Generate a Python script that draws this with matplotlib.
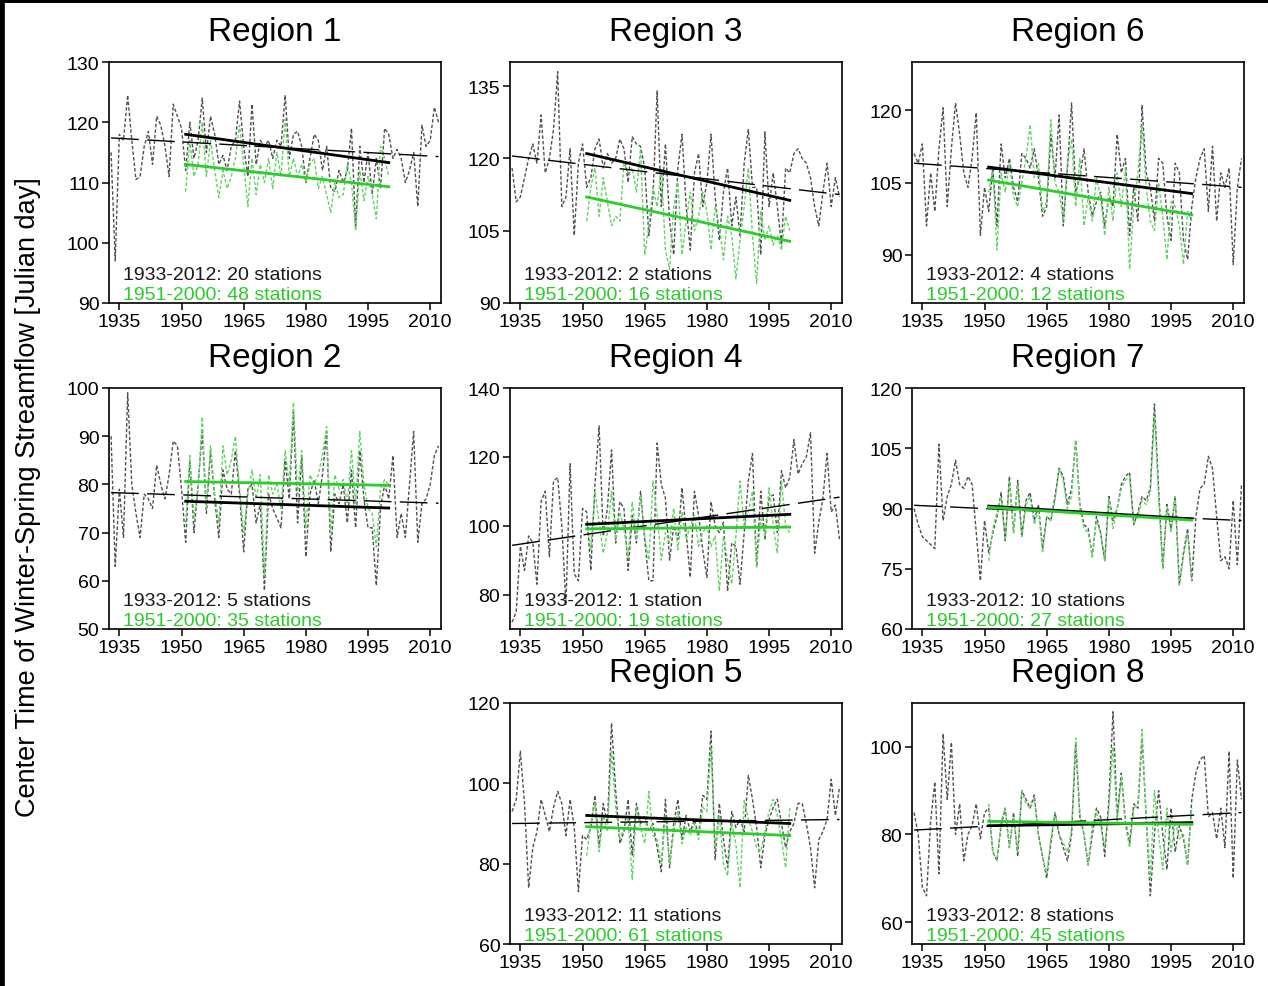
import numpy as np
import matplotlib
matplotlib.use("Agg")
import matplotlib.pyplot as plt
from matplotlib.lines import Line2D

plt.rcParams['font.family'] = ['Liberation Sans', 'DejaVu Sans']

# ---------------- data ----------------
years_all = np.arange(1933, 2013)      # 1933-2012 series
years_recent = np.arange(1951, 2001)   # 1951-2000 series
xticks = [1935, 1950, 1965, 1980, 1995, 2010]

# Region 1
r1_all = [115, 97, 118, 117, 124.5, 117, 110.5, 111, 116, 118.5,
          113, 121, 119.5, 116, 111, 123, 121, 119, 112, 120,
          114, 117, 124, 115, 121, 118, 113, 114.5, 112, 116,
          117, 123.5, 116, 111, 123, 113, 117, 116, 117, 114,
          117, 116, 124.5, 114, 118, 118.5, 116, 110, 114, 118,
          117, 112, 116, 109, 108.5, 112, 110, 112, 119, 102.5,
          116, 110, 115, 108, 114, 109, 119, 118, 114, 115.5,
          114, 110, 112, 115, 106, 119.5, 116, 117, 122.5, 120]
r1_recent = [108.5, 117, 111, 113, 120, 111, 117, 112, 107.5, 112,
             109, 111, 114, 119.5, 113, 106, 114, 108, 113, 110,
             114, 109, 115, 111, 120.5, 111, 114, 111, 113, 110,
             113, 114, 109, 111, 108, 105, 110, 107.5, 108, 113,
             110, 102, 112, 107, 111, 108, 104, 116, 114, 111]
r1_trend_all = [117.4, 114.3]
r1_trend_all_51 = [118.0, 113.3]
r1_trend_recent = [113.0, 109.3]

# Region 3
r3_all = [118, 111, 112, 116, 120, 123, 119, 129, 117, 120,
          126, 138, 110, 112, 122, 104, 119, 123, 114, 116,
          122, 124, 118, 121, 119, 120, 124, 122, 115, 124.5,
          123, 122.5, 118, 104, 112, 134, 110, 123, 107, 100,
          118, 125, 110, 101, 117, 121, 110, 115, 125, 112,
          103, 113, 118, 106, 112, 104, 119, 126, 114, 114,
          100, 125.5, 110, 117, 110, 102, 118, 117, 121, 122,
          120, 119, 116, 110, 106, 113, 119, 110, 116, 112]
r3_recent = [107, 114, 118, 108, 116, 111, 106, 108, 107, 119,
             117, 118, 113, 122, 100, 106, 114, 110, 118, 101,
             97, 110, 115, 100, 107, 113, 105, 108, 113, 109,
             101, 110, 106, 99, 108, 104, 95, 103, 110, 118,
             104, 94, 109, 103, 106, 102, 104, 101, 108, 105]
r3_trend_all = [120.5, 112.5]
r3_trend_all_51 = [121.0, 111.3]
r3_trend_recent = [112.0, 102.8]

# Region 6
r6_all = [111, 109, 113, 96, 107, 99, 112, 120.5, 100, 112,
          121.5, 115, 107, 104, 110, 119.5, 94, 104, 99, 108,
          96, 113, 106, 110, 104, 101, 111, 110, 108, 112,
          106, 98, 100, 115, 106, 119, 96, 108, 121.5, 103,
          106, 112, 103, 98, 101, 103, 96, 102, 100, 115,
          107, 110, 94, 104, 97, 121, 107, 104, 97, 110,
          109, 98, 93, 109, 107, 93, 89, 100, 106, 110,
          112, 99, 112.5, 97, 107, 104, 108, 88, 104, 110]
r6_recent = [103, 108, 91, 107, 103, 109, 102, 100, 105, 110,
             117, 106, 109, 99, 101, 118, 105, 103, 97, 109,
             114, 100, 110, 96, 102, 97, 106, 102, 94, 104,
             97, 107, 100, 108, 87, 100, 107, 117, 104, 97,
             95, 105, 98, 89, 101, 100, 96, 88, 99, 97]
r6_trend_all = [109.0, 104.0]
r6_trend_all_51 = [108.2, 102.7]
r6_trend_recent = [105.5, 98.3]

# Region 2
r2_all = [90, 63, 79, 69, 99, 80, 74, 69, 78, 77,
          75, 84, 80, 77, 82, 89, 88, 79, 68, 85,
          70, 80, 91, 74, 87, 77, 69, 83, 79, 78,
          87, 78, 66, 79, 80, 72, 76, 58, 78, 75,
          73, 71, 85, 77, 95, 72, 86, 65, 78, 81,
          76, 82, 91, 66, 78, 76, 80, 72, 83, 71,
          87, 77, 71, 71, 59, 75, 80, 77, 86, 69,
          74, 69, 80, 91, 68, 76, 77, 80, 86, 88]
r2_recent = [72, 86, 73, 79, 94, 75, 88, 78, 72, 88,
             82, 85, 90, 79, 70, 78, 83, 77, 82, 61,
             82, 78, 80, 75, 87, 80, 97, 78, 87, 71,
             82, 80, 82, 86, 92, 70, 82, 79, 81, 76,
             87, 76, 91, 80, 75, 74, 67, 79, 81, 80]
r2_trend_all = [78.3, 76.1]
r2_trend_all_51 = [76.5, 75.1]
r2_trend_recent = [80.6, 79.8]

# Region 4
r4_all = [72, 75, 94, 87, 97, 95, 83, 107, 110, 91,
          113, 114, 100, 77, 118, 86, 84, 105, 104, 87,
          112, 129, 97, 105, 122, 95, 107, 105, 87, 103,
          95, 110, 96, 84, 84, 124, 112, 108, 90, 100,
          96, 111, 98, 85, 110, 103, 93, 85, 107, 100,
          98, 101, 81, 95, 94, 83, 98, 113, 121, 88,
          110, 96, 108, 109, 98, 116, 111, 114, 125, 115,
          118, 120, 127, 92, 101, 108, 121, 104, 106, 96]
r4_recent = [101, 93, 110, 101, 92, 98, 110, 96, 104, 99,
             91, 107, 96, 109, 97, 90, 113, 103, 90, 98,
             95, 105, 93, 104, 96, 100, 103, 94, 98, 100,
             94, 97, 81, 97, 90, 83, 97, 113, 100, 104,
             110, 88, 102, 97, 111, 100, 92, 113, 100, 98]
r4_trend_all = [94.3, 108.3]
r4_trend_all_51 = [100.4, 103.3]
r4_trend_recent = [99.1, 99.6]

# Region 7
r7_all = [90, 86, 83, 82, 81, 80, 106, 87, 93, 96,
          102, 96, 95, 98, 96, 84, 72, 87, 79, 84,
          88, 94, 82, 98, 84, 97, 83, 92, 94, 87,
          91, 80, 88, 87, 93, 100, 98, 91, 95, 107,
          91, 86, 85, 78, 88, 84, 77, 93, 87, 90,
          96, 98, 99, 86, 89, 93, 92, 95, 116, 95,
          75, 91, 85, 93, 71, 79, 85, 72, 88, 95,
          96, 103, 100, 88, 77, 78, 75, 92, 76, 96]
r7_recent = [77, 85, 89, 93, 82, 97, 84, 96, 83, 91,
             93, 86, 90, 79, 88, 87, 92, 100, 97, 90,
             93, 107, 90, 85, 84, 78, 87, 84, 77, 92,
             85, 90, 95, 97, 98, 86, 88, 92, 91, 94,
             114, 93, 75, 90, 84, 93, 71, 78, 84, 72]
r7_trend_all = [90.8, 87.0]
r7_trend_all_51 = [90.6, 87.4]
r7_trend_recent = [90.3, 87.1]

# Region 5
r5_all = [93, 96, 108, 95, 74, 84, 88, 96, 92, 88,
          94, 98, 95, 87, 96, 89, 73, 87, 86, 89,
          97, 84, 95, 90, 115, 98, 85, 88, 96, 82,
          95, 90, 92, 88, 90, 84, 78, 96, 79, 90,
          96, 86, 92, 88, 91, 87, 97, 96, 113, 81,
          95, 86, 79, 93, 89, 91, 88, 102, 96, 89,
          79, 87, 91, 94, 96, 90, 84, 88, 90, 95,
          95, 90, 84, 74, 86, 88, 91, 101, 92, 99]
r5_recent = [82, 90, 95, 83, 92, 88, 108, 94, 86, 89,
             91, 76, 94, 89, 85, 98, 87, 86, 80, 92,
             80, 88, 93, 85, 89, 87, 90, 86, 94, 93,
             109, 84, 92, 80, 77, 90, 85, 74, 96, 91,
             88, 84, 83, 88, 93, 96, 92, 86, 79, 94]
r5_trend_all = [90.0, 91.0]
r5_trend_all_51 = [92.0, 90.0]
r5_trend_recent = [89.2, 87.0]

# Region 8
r8_all = [85, 80, 68, 66, 83, 92, 71, 103, 88, 101,
          80, 87, 74, 80, 82, 87, 79, 85, 86, 76,
          74, 82, 86, 77, 85, 75, 90, 88, 86, 89,
          80, 75, 70, 78, 85, 80, 77, 74, 80, 101,
          84, 80, 73, 80, 86, 84, 75, 88, 108, 84,
          94, 83, 78, 87, 86, 102, 84, 66, 80, 90,
          80, 72, 86, 76, 82, 79, 73, 88, 94, 97,
          98, 84, 85, 79, 86, 77, 99, 70, 97, 88]
r8_recent = [87, 76, 74, 83, 86, 77, 84, 76, 90, 87,
             86, 88, 80, 75, 71, 79, 85, 80, 78, 76,
             81, 102, 85, 80, 73, 82, 85, 82, 77, 86,
             100, 83, 93, 82, 77, 86, 87, 104, 84, 70,
             90, 80, 72, 86, 76, 83, 79, 80, 73, 86]
r8_trend_all = [81.0, 85.0]
r8_trend_all_51 = [82.0, 82.7]
r8_trend_recent = [83.0, 82.3]

region_names = ["Region 1", "Region 3", "Region 6", "Region 2",
                "Region 4", "Region 7", "Region 5", "Region 8"]
stations_all = [20, 2, 4, 5, 1, 10, 11, 8]
stations_recent = [48, 16, 12, 35, 19, 27, 61, 45]

series_all = [r1_all, r3_all, r6_all, r2_all, r4_all, r7_all, r5_all, r8_all]
series_recent = [r1_recent, r3_recent, r6_recent, r2_recent,
                 r4_recent, r7_recent, r5_recent, r8_recent]
trends_all = [r1_trend_all, r3_trend_all, r6_trend_all, r2_trend_all,
              r4_trend_all, r7_trend_all, r5_trend_all, r8_trend_all]
trends_all_51 = [r1_trend_all_51, r3_trend_all_51, r6_trend_all_51, r2_trend_all_51,
                 r4_trend_all_51, r7_trend_all_51, r5_trend_all_51, r8_trend_all_51]
trends_recent = [r1_trend_recent, r3_trend_recent, r6_trend_recent, r2_trend_recent,
                 r4_trend_recent, r7_trend_recent, r5_trend_recent, r8_trend_recent]

# ---------------- layout / style ----------------
ylims = [(90, 130), (90, 140), (80, 130), (50, 100),
         (70, 140), (60, 120), (60, 120), (55, 110)]
yticks = [[90, 100, 110, 120, 130], [90, 105, 120, 135], [90, 105, 120],
          [50, 60, 70, 80, 90, 100], [80, 100, 120, 140],
          [60, 75, 90, 105, 120], [60, 80, 100, 120], [60, 80, 100]]
grid_pos = [(0, 0), (0, 1), (0, 2), (1, 0), (1, 1), (1, 2), (2, 1), (2, 2)]

W, H = 1268, 987
col_left = [109, 510, 912]
row_top = [63, 389, 704]
ax_w, ax_h = 332, 241

GREEN = '#2bcc2b'
GREEN_LIGHT = '#62d462'
GREY = '#505050'

fig = plt.figure(figsize=(W / 100, H / 100), dpi=100)

for i, name in enumerate(region_names):
    r, c = grid_pos[i]
    l = col_left[c]
    t = row_top[r]
    ax = fig.add_axes([l / W, 1 - (t + ax_h) / H, ax_w / W, ax_h / H])

    ax.plot(years_all, series_all[i], color=GREY, lw=1.0,
            linestyle=(0, (2.5, 1.5)), zorder=2)
    ax.plot(years_recent, series_recent[i], color=GREEN_LIGHT, lw=1.0,
            linestyle=(0, (2.5, 1.5)), zorder=3)
    ax.plot([years_all[0], years_all[-1]], trends_all[i], color='black',
            lw=1.0, linestyle=(0, (20, 6)), zorder=4)
    ax.plot([years_recent[0], years_recent[-1]], trends_all_51[i],
            color='black', lw=2.0, zorder=5)
    ax.plot([years_recent[0], years_recent[-1]], trends_recent[i],
            color=GREEN, lw=2.0, zorder=5)

    ax.set_xlim(1932.5, 2012.6)
    ax.set_ylim(*ylims[i])
    ax.set_xticks(xticks)
    ax.set_yticks(yticks[i])
    ax.tick_params(direction='out', length=5, width=1.1, labelsize=14,
                   top=False, right=False, pad=2)
    for s in ax.spines.values():
        s.set_linewidth(1.2)
    ax.set_title(name, fontsize=24, pad=16)

    n1 = stations_all[i]
    n2 = stations_recent[i]
    ax.text(0.042, 0.098, f"1933-2012: {n1} station{'s' if n1 != 1 else ''}",
            transform=ax.transAxes, fontsize=14, color='#1a1a1a',
            va='baseline', zorder=6)
    ax.text(0.042, 0.018, f"1951-2000: {n2} station{'s' if n2 != 1 else ''}",
            transform=ax.transAxes, fontsize=14, color=GREEN,
            va='baseline', zorder=6)

fig.text(0.022, 0.496, "Center Time of Winter-Spring Streamflow [Julian day]",
         rotation=90, ha='center', va='center', fontsize=19.5)

# thin black frame on top and left edges, as in the source image
fig.add_artist(Line2D([0, 1], [1, 1], transform=fig.transFigure,
                      color='black', lw=5))
fig.add_artist(Line2D([0, 0], [0, 1], transform=fig.transFigure,
                      color='black', lw=7))

fig.savefig("out.png", dpi=100)
